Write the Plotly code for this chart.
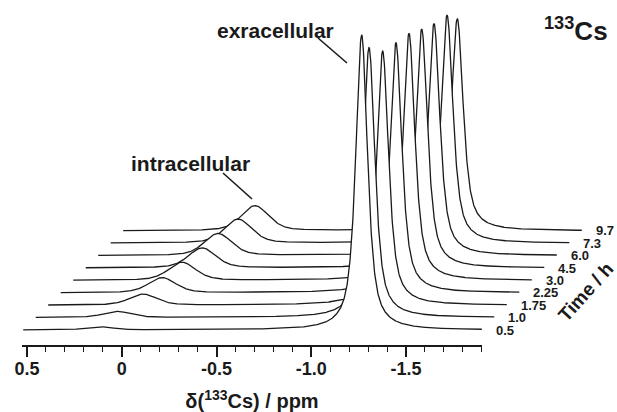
import numpy as np
import plotly.graph_objects as go

# ---------------- data ----------------
times = ["0.5", "1.0", "1.75", "2.25", "3.0", "4.5", "6.0", "7.3", "9.7"]
# extracellular 133Cs peak: shift (ppm) and height (a.u.)
ext_shift = [-1.266, -1.239, -1.245, -1.249, -1.252, -1.253, -1.252, -1.255, -1.243]
ext_height = [295, 270, 254, 250, 247, 239, 232, 228, 212]
# intracellular 133Cs peak: shift (ppm) and height (a.u.)
int_shift = [0.115, 0.091, 0.020, -0.015, -0.054, -0.094, -0.112, -0.152, -0.175]
int_height = [3, 6, 11, 15, 18, 20, 22, 24, 25]
# line shapes: half width at half height (ppm) and Lorentzian fraction
ext_hwhm, ext_eta = 0.037, 0.75
int_hwhm, int_eta = 0.085, 0.4
# spectral window of each spectrum (ppm)
ppm_start, ppm_end = 0.52, -1.90
ppm_tickvals = [0.5, 0, -0.5, -1.0, -1.5]
ppm_ticktext = ["0.5", "0", "-0.5", "-1.0", "-1.5"]

# ---------------- stacked-plot geometry ----------------
W, H = 617, 412
PX_PER_PPM = 189.5
X05_PX = 27.0            # pixel of 0.5 ppm on the front axis
AX_LEFT, AX_RIGHT = 22.0, 482.0
AXIS_Y_PX = 345.0        # axis line pixel row
DX_PPM = 12.5 / PX_PER_PPM   # horizontal stagger per spectrum
DY = 12.4                    # vertical stagger per spectrum
BASE0 = 15.0

FONT = "Liberation Sans, Arial, sans-serif"
INK = "#1a1a1a"


def px2x(px):
    return 0.5 - (px - X05_PX) / PX_PER_PPM


def px2y(py):
    return AXIS_Y_PX - py


def pvoigt(x, x0, hw, eta):
    lor = hw * hw / ((x - x0) ** 2 + hw * hw)
    gau = np.exp(-np.log(2) * ((x - x0) / hw) ** 2)
    return eta * lor + (1 - eta) * gau


ppm = np.linspace(ppm_start, ppm_end, 1600)

fig = go.Figure()
n = len(times)
for i in reversed(range(n)):
    base = BASE0 + DY * i
    y = base + ext_height[i] * pvoigt(ppm, ext_shift[i], ext_hwhm, ext_eta) \
        + int_height[i] * pvoigt(ppm, int_shift[i], int_hwhm, int_eta)
    fig.add_trace(go.Scatter(
        x=ppm - DX_PPM * i, y=y, mode="lines",
        line=dict(color=INK, width=1.3),
        fill="tozeroy", fillcolor="white",
        showlegend=False, hoverinfo="skip", name=times[i] + " h"))

# dummy trace so the visible ppm axis (x2) is rendered
fig.add_trace(go.Scatter(x=[None], y=[None], xaxis="x2", yaxis="y",
                         showlegend=False, hoverinfo="skip"))

annotations = []
for i in range(n):
    annotations.append(dict(
        x=ppm_end - DX_PPM * i, y=BASE0 + DY * i, xref="x", yref="y",
        text=times[i], showarrow=False, xanchor="left", yanchor="middle",
        xshift=12, font=dict(family=FONT, size=13, color=INK, weight="bold")))

annotations += [
    dict(x=px2x(275), y=px2y(30), xref="x", yref="y", text="exracellular",
         showarrow=False, font=dict(family=FONT, size=21, color=INK, weight="bold")),
    dict(x=px2x(190), y=px2y(163), xref="x", yref="y", text="intracellular",
         showarrow=False, font=dict(family=FONT, size=21, color=INK, weight="bold")),
    dict(x=px2x(576), y=px2y(29), xref="x", yref="y", text="<sup>133</sup>Cs",
         showarrow=False, font=dict(family=FONT, size=26, color=INK, weight="bold")),
    dict(x=px2x(585), y=px2y(292), xref="x", yref="y", text="Time / h",
         showarrow=False, textangle=-48,
         font=dict(family=FONT, size=19, color=INK, weight="bold")),
]

# leader lines of the two labels
shapes = [
    dict(type="line", xref="x", yref="y", x0=px2x(318), y0=px2y(38),
         x1=px2x(347), y1=px2y(63), line=dict(color=INK, width=1.6)),
    dict(type="line", xref="x", yref="y", x0=px2x(223), y0=px2y(173),
         x1=px2x(252), y1=px2y(199), line=dict(color=INK, width=1.6)),
]

fig.update_layout(
    width=W, height=H,
    margin=dict(l=0, r=0, t=0, b=H - AXIS_Y_PX, autoexpand=False),
    paper_bgcolor="white", plot_bgcolor="rgba(0,0,0,0)",
    xaxis=dict(domain=[0, 1], range=[px2x(0), px2x(W)], visible=False,
               fixedrange=True),
    yaxis=dict(domain=[0, 1], range=[0, AXIS_Y_PX], visible=False,
               fixedrange=True),
    xaxis2=dict(domain=[AX_LEFT / W, AX_RIGHT / W], anchor="y",
                range=[px2x(AX_LEFT), px2x(AX_RIGHT)],
                showline=True, linecolor=INK, linewidth=1.6,
                ticks="outside", ticklen=10, tickwidth=1.5, tickcolor=INK,
                tickvals=ppm_tickvals, ticktext=ppm_ticktext,
                ticklabelstandoff=-3,
                minor=dict(dtick=0.1, tick0=0, ticks="outside", ticklen=5,
                           tickwidth=1.2, tickcolor=INK, showgrid=False),
                showgrid=False, zeroline=False, automargin=False,
                tickfont=dict(family=FONT, size=18, color=INK, weight="bold"),
                title=dict(text="δ(<sup>133</sup>Cs) / ppm", standoff=17,
                           font=dict(family=FONT, size=20, color=INK, weight="bold"))),
    annotations=annotations,
    shapes=shapes,
)

fig.write_html("out.html", config={"displayModeBar": False},
               post_script="document.body.style.margin='0px';"
                           "document.body.style.overflow='hidden';")
